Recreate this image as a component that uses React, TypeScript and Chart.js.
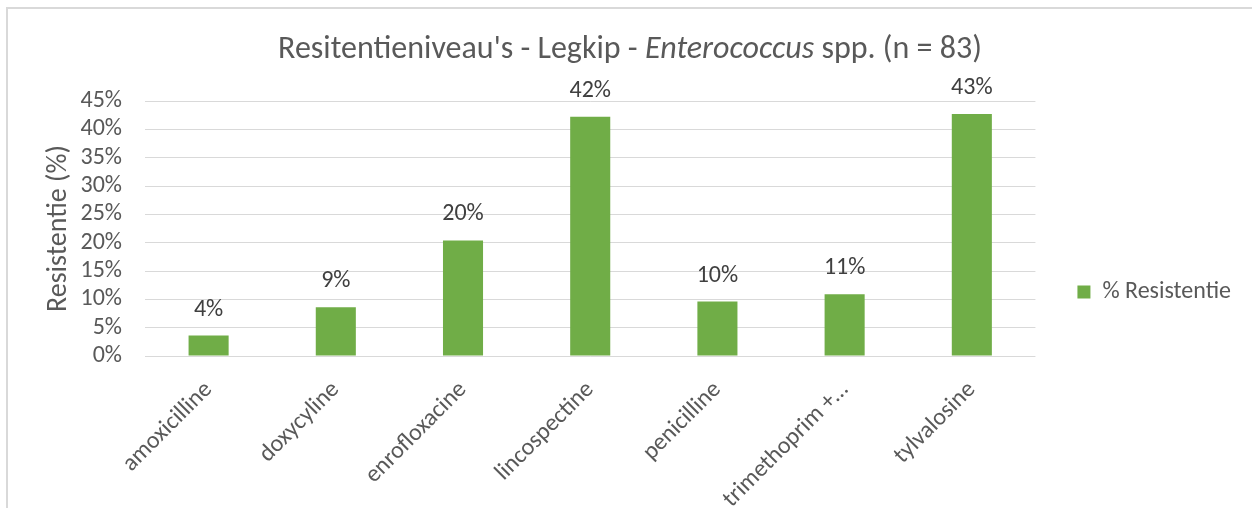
import React, { useEffect, useRef } from "react";
import { Chart, registerables } from "chart.js";

Chart.register(...registerables);

// ---- data ----
const categories = [
  "amoxicilline",
  "doxycyline",
  "enrofloxacine",
  "lincospectine",
  "penicilline",
  "trimethoprim +…",
  "tylvalosine",
];
const resistancePct = [3.6, 8.6, 20.4, 42.2, 9.6, 10.9, 42.7];
const seriesLabel = "% Resistentie";
const yAxisTitle = "Resistentie (%)";
const yMin = 0;
const yMax = 45;
const yStep = 5;
const titleSegments = [
  { text: "Resitentieniveau's - Legkip - ", italic: false },
  { text: "Enterococcus", italic: true },
  { text: " spp. (n = 83)", italic: false },
];

const FONT = "Calibri, Carlito, Lato, sans-serif";
const TEXT = "#595959";
const GRID = "#d9d9d9";
const BAR = "#70ad47";

const titlePlugin = {
  id: "mixedTitle",
  afterDraw(chart: any) {
    const ctx = chart.ctx;
    const size = 32;
    ctx.save();
    ctx.fillStyle = TEXT;
    ctx.textBaseline = "middle";
    ctx.textAlign = "left";
    const widths = titleSegments.map((s) => {
      ctx.font = `${s.italic ? "italic " : ""}${size}px ${FONT}`;
      return ctx.measureText(s.text).width;
    });
    const total = widths.reduce((a, b) => a + b, 0);
    let x = chart.width / 2 - total / 2;
    const y = 41;
    titleSegments.forEach((s, i) => {
      ctx.font = `${s.italic ? "italic " : ""}${size}px ${FONT}`;
      ctx.fillText(s.text, x, y);
      x += widths[i];
    });
    ctx.restore();
  },
};

const dataLabelPlugin = {
  id: "barValueLabels",
  afterDatasetsDraw(chart: any) {
    const ctx = chart.ctx;
    ctx.save();
    ctx.fillStyle = "#404040";
    ctx.font = `24px ${FONT}`;
    ctx.textAlign = "center";
    ctx.textBaseline = "middle";
    const meta = chart.getDatasetMeta(0);
    meta.data.forEach((el: any, i: number) => {
      const v = chart.data.datasets[0].data[i] as number;
      ctx.fillText(`${Math.round(v)}%`, el.x, el.y - 26);
    });
    ctx.restore();
  },
};

export default function App() {
  const ref = useRef<HTMLCanvasElement | null>(null);

  useEffect(() => {
    if (!ref.current) return;
    const chart = new Chart(ref.current, {
      type: "bar",
      data: {
        labels: categories,
        datasets: [
          {
            label: seriesLabel,
            data: resistancePct,
            backgroundColor: BAR,
            borderWidth: 0,
            barPercentage: 0.315,
            categoryPercentage: 1,
          },
        ],
      },
      options: {
        responsive: false,
        animation: false,
        devicePixelRatio: 1,
        layout: { padding: { top: 67, bottom: 0, left: 0, right: 11 } },
        plugins: {
          // empty built-in title acts as a spacer; the styled title is drawn by mixedTitle
          title: {
            display: true,
            text: "",
            font: { size: 10, lineHeight: 1.2 },
            padding: { top: 13, bottom: 0 },
          },
          tooltip: { enabled: false },
          legend: {
            display: true,
            position: "right",
            align: "center",
            labels: {
              boxWidth: 13,
              boxHeight: 13,
              padding: 42,
              color: TEXT,
              font: { family: FONT, size: 24 },
            },
          },
        },
        scales: {
          x: {
            grid: { display: false, drawTicks: false },
            border: { display: false },
            ticks: {
              color: TEXT,
              font: { family: FONT, size: 24 },
              maxRotation: 45,
              minRotation: 45,
              padding: 20,
              autoSkip: false,
            },
            afterFit: (scale: any) => {
              scale.height = 152;
            },
          },
          y: {
            min: yMin,
            max: yMax,
            grid: { color: GRID, lineWidth: 1, drawTicks: false },
            border: { display: false },
            ticks: {
              stepSize: yStep,
              autoSkip: false,
              color: TEXT,
              font: { family: FONT, size: 24 },
              padding: 23,
              callback: (v: any) => `${v}%`,
            },
            title: {
              display: true,
              text: yAxisTitle,
              color: TEXT,
              font: { family: FONT, size: 28, weight: "normal" },
              padding: { top: 34, bottom: 0 },
            },
            afterFit: (scale: any) => {
              scale.width = 137;
            },
          },
        },
      },
      plugins: [titlePlugin, dataLabelPlugin],
    });
    return () => chart.destroy();
  }, []);

  return (
    <div
      style={{
        position: "absolute",
        left: 6,
        top: 7,
        width: 1260,
        height: 510,
        borderLeft: "2px solid #d9d9d9",
        borderTop: "2px solid #d9d9d9",
        boxSizing: "border-box",
        background: "#fff",
      }}
    >
      <canvas ref={ref} width={1244} height={499} style={{ display: "block" }} />
    </div>
  );
}
